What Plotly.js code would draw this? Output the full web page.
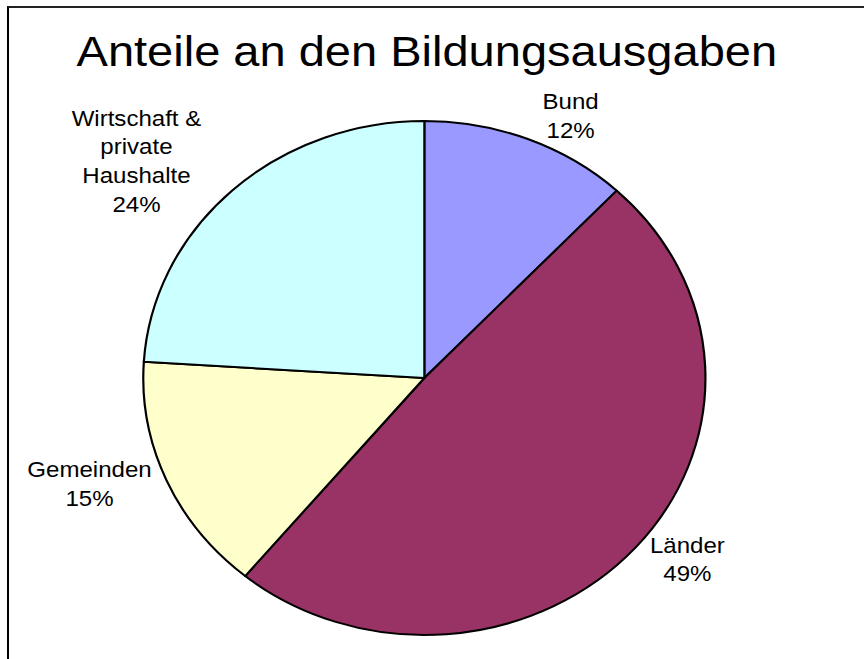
<!DOCTYPE html>
<html>
<head>
<meta charset="utf-8">
<script src="https://cdn.plot.ly/plotly-3.0.1.min.js"></script>
<style>
  html, body { margin: 0; padding: 0; background: #fff; overflow: hidden; }
  #wrap { position: relative; width: 864px; height: 659px; overflow: hidden; }
  #frame { position: absolute; left: 7px; top: 6px; width: 900px; height: 700px;
           border-left: 2px solid #000; border-top: 2px solid #222; pointer-events: none; z-index: 2; }
  #chart { position: absolute; left: 0; top: 0; width: 790px; height: 659px;
           transform-origin: 0 0; transform: scaleX(1.0937); }
</style>
</head>
<body>
<div id="wrap">
  <div id="chart"></div>
  <div id="frame"></div>
</div>
<script>
const titleText = "Anteile an den Bildungsausgaben";
const categories = ["Bund", "Länder", "Gemeinden", "Wirtschaft &<br>private<br>Haushalte"];
const shares = [12, 49, 15, 24];
const colors = ["#9999FF", "#993366", "#FFFFCC", "#CCFFFF"];

const W = 790, H = 659;
const cx = 388, cy = 378, r = 257;

const trace = {
  type: "pie",
  labels: categories,
  values: shares,
  sort: false,
  direction: "clockwise",
  rotation: 0,
  marker: { colors: colors, line: { color: "#000", width: 2 } },
  textinfo: "label+percent",
  textposition: "outside",
  texttemplate: "%{label}<br>%{percent:.0%}",
  outsidetextfont: { family: "Liberation Sans, Arial, sans-serif", size: 22, color: "#000" },
  hoverinfo: "none",
  showlegend: false,
  automargin: false,
  domain: { x: [(cx - r) / W, (cx + r) / W], y: [1 - (cy + r) / H, 1 - (cy - r) / H] }
};

const layout = {
  width: W, height: H,
  margin: { l: 0, r: 0, t: 0, b: 0 },
  paper_bgcolor: "#fff",
  title: {
    text: titleText,
    font: { family: "Liberation Sans, Arial, sans-serif", size: 43, color: "#000" },
    x: 0.494, xanchor: "center", xref: "paper",
    y: 1 - 51 / H, yanchor: "middle", yref: "container"
  }
};

Plotly.newPlot("chart", [trace], layout, { displayModeBar: false, staticPlot: true });
</script>
</body>
</html>
